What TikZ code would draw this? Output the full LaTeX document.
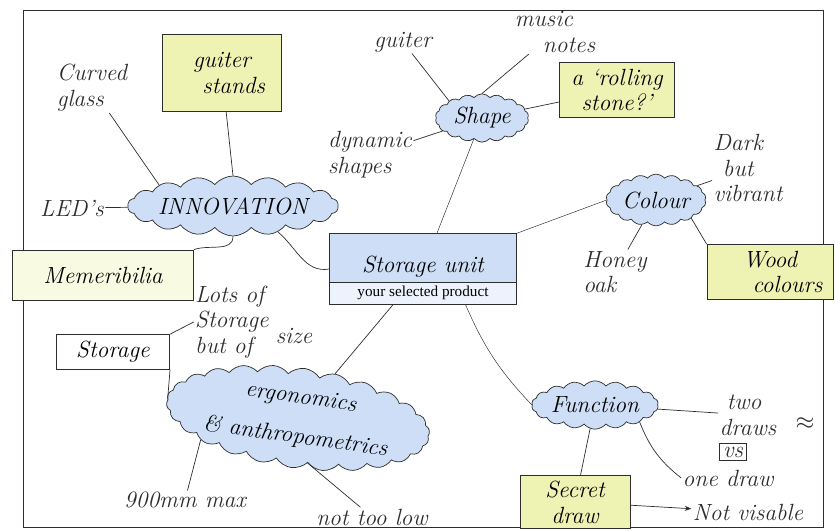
\documentclass[tikz,border=0pt]{standalone}
\usepackage{fontspec}
\newfontfamily\printfont{Liberation Serif}
\usetikzlibrary{shapes, arrows.meta, positioning}
\definecolor{hatch}{RGB}{205,222,246}
\definecolor{marker}{RGB}{238,243,180}
\definecolor{pen}{RGB}{45,45,45}
\newcommand{\hand}{\fontsize{20}{22}\selectfont\itshape}
\tikzstyle{idea} = [draw=pen, fill=hatch, cloud, cloud ignores aspect, cloud puffs=18, cloud puff arc=100, font=\hand, align=center, inner sep=0pt]
\tikzstyle{box} = [draw=pen, fill=marker, rectangle, font=\hand, align=center]
\tikzstyle{note} = [font=\hand, align=left, text=pen, inner sep=1pt]
\tikzstyle{link} = [draw=pen]

\begin{document}
\begin{tikzpicture}[x=0.03cm, y=-0.03cm, line width=0.6pt, >=Stealth]
  \useasboundingbox (0,0) rectangle (835,531);
  \draw[pen] (23,10) rectangle (823,527);
  % centre
  \node[draw=pen, rectangle split, rectangle split parts=2, rectangle split part fill={hatch,hatch!35}, minimum width=5.6cm, align=center] (main) at (423,269) {\hand\rule{0pt}{1.05cm}Storage unit \nodepart{two} \printfont\fontsize{13}{14}\selectfont your selected product};
  % innovation
  \node[idea, minimum width=5.6cm, minimum height=1.8cm] (innov) at (233,206) {INNOVATION};
  \node[box, minimum width=3.57cm, minimum height=2.31cm] (guitstand) at (222,73) {guiter\\\hspace{1em}stands};
  \node[note] (curved) at (92,88) {Curved\\glass};
  \node[note] (leds) at (72,208) {LED's};
  \node[box, fill=marker!40, minimum width=5.43cm, minimum height=1.5cm] (memo) at (103,275) {Memeribilia};
  % shape
  \node[idea, minimum width=2.8cm, minimum height=1.45cm] (shape) at (482,118) {Shape};
  \node[note] (guiter) at (403,42) {guiter};
  \node[note] (music) at (555,32) {music\\\hspace{1.2em}notes};
  \node[box, minimum width=3.45cm, minimum height=1.65cm] (rolling) at (617,90) {a `rolling\\stone?'};
  \node[note] (dynamic) at (370,155) {dynamic\\shapes};
  % colour
  \node[idea, minimum width=3cm, minimum height=1.55cm] (colour) at (656,200) {Colour};
  \node[note] (dark) at (748,168) {Dark\\\hspace{0.4em}but\\vibrant};
  \node[note] (honey) at (615,272) {Honey\\oak};
  \node[box, minimum width=3.78cm, minimum height=1.65cm] (wood) at (770,272) {Wood\\\hspace{1.5em}colours};
  % function
  \node[idea, minimum width=3.8cm, minimum height=1.45cm] (func) at (595,405) {Function};
  \node[note] (two) at (748,415) {\hspace{0.3em}two\\draws};
  \node[note] (wave) at (805,424) {$\approx$};
  \node[draw=pen, note, inner sep=3pt] (vs) at (733,452) {vs};
  \node[note] (one) at (728,478) {one draw};
  \node[box, minimum width=3.3cm, minimum height=1.6cm] (secret) at (575,502) {Secret\\draw};
  \node[note] (notvis) at (748,512) {Not visable};
  % ergonomics
  \node[idea, cloud puffs=26, minimum width=7.8cm, minimum height=3cm, rotate=-8] (ergo) at (298,418) {ergonomics\\[12pt]\& anthropometrics};
  \node[box, fill=white, minimum width=3.4cm, minimum height=1.05cm] (storage) at (113,352) {Storage};
  \node[note] (lots) at (232,322) {Lots of\\Storage\\but of};
  \node[note] (size) at (294,336) {size};
  \node[note] (mm) at (185,500) {900mm max};
  \node[note] (low) at (372,517) {not too low};

  \draw[link] (curved) -- (innov.north west);
  \draw[link] (guitstand) -- (innov.north);
  \draw[link] (leds) -- (innov);
  \draw[link] (innov.south) to[out=-90,in=20] (memo.north east);
  \draw[link] (innov.-30) to[out=-40,in=190] (main.west);
  \draw[link] (guiter) -- (shape.north west);
  \draw[link] (music) -- (shape.north);
  \draw[link] (shape) -- (rolling);
  \draw[link] (dynamic) -- (shape);
  \draw[link, thin] (main) -- (shape);
  \draw[link, thin] (main.north east) -- (colour.west);
  \draw[link] (colour) -- (dark);
  \draw[link] (colour) -- (honey);
  \draw[link] (colour.south east) -- (wood.north west);
  \draw[link, thin] (main.-40) to[bend right=10] (func.west);
  \draw[link] (func) -- (two);
  \draw[link] (func.south east) to[bend right=15] (one.west);
  \draw[link] (func) -- (secret);
  \draw[link, ->] (secret) -- (notvis);
  \draw[link] (main.south) ++(-30,0) -- (ergo);
  \draw[link] (storage.north east) -- (lots.west);
  \draw[link] (storage.south east) -- (ergo.west);
  \draw[link] (ergo.south west) -- (mm);
  \draw[link] (ergo.-70) -- (low);
\end{tikzpicture}
\end{document}
